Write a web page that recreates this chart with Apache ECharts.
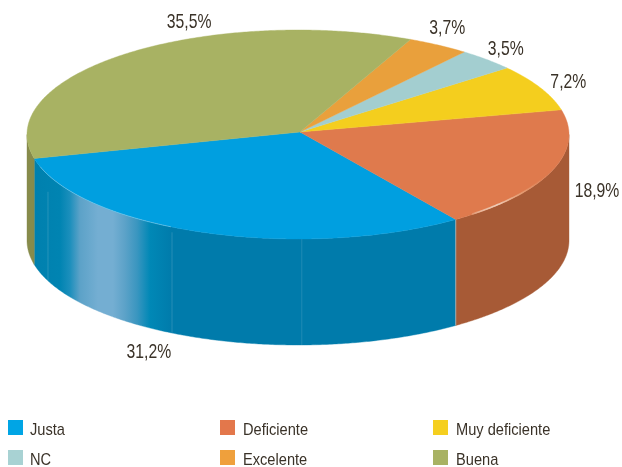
<!DOCTYPE html>
<html>
<head>
<meta charset="utf-8">
<style>html,body{margin:0;padding:0;background:#fff}#c{width:622px;height:467px}</style>
<script src="https://cdn.jsdelivr.net/npm/echarts@6/dist/echarts.min.js"></script>
</head>
<body>
<div id="c"></div>
<script>
// Data, in the clockwise order of the pie starting from the Justa / Deficiente edge
const categories = ['Justa', 'Deficiente', 'Muy deficiente', 'NC', 'Excelente', 'Buena'];
const shares = [31.2, 18.9, 7.2, 3.5, 3.7, 35.5];
const labels = ['31,2%', '18,9%', '7,2%', '3,5%', '3,7%', '35,5%'];

const topColors = ['#009FE0', '#DF7A4D', '#F4CE1E', '#A3CED0', '#E9A03C', '#A8B263'];
const legendColors = ['#00A5E5', '#E3774B', '#F5CF1F', '#A8D2D3', '#EFA03C', '#A8B263'];
const wallColors = ['#007BAB', '#A75A36', '#B89A16', '#7A9C9D', '#B07A2C', '#878B4B'];

// Drawing geometry
const CX = 298, CY = 134.5, RX = 271, RY = 104.5, DEPTH = 106, START_DEG = 54.4;
const FONT = '"Liberation Sans", sans-serif';
const INK = '#3A3228';
const total = shares.reduce((a, b) => a + b, 0);
const labelOffset = [[-54, 120], [45, 20], [28, -6], [19, -10], [9, -17], [63, -32]];
const legendColumns = [[8, 30], [220, 243], [433, 456]];
const legendRows = [420, 450];

function rim(deg, drop) {
  const r = deg * Math.PI / 180;
  return [CX + RX * Math.cos(r), CY + RY * Math.sin(r) + (drop || 0)];
}
function arc(a, b, drop) {
  const pts = [], n = Math.max(2, Math.ceil(Math.abs(b - a) * 2));
  for (let i = 0; i <= n; i++) pts.push(rim(a + (b - a) * i / n, drop));
  return pts;
}
function xGrad(stops) {
  return new echarts.graphic.LinearGradient(27, 0, 569, 0,
    stops.map(s => ({ offset: (s[0] - 27) / 542, color: s[1] })), true);
}
const justaWall = [[33, '#0080AE'], [60, '#0084B2'], [70, '#1C8FBC'], [80, '#5CA2C8'], [98, '#74AED2'],
  [113, '#74AED2'], [125, '#5CA2C8'], [137, '#3A96C0'], [150, '#0088B6'], [172, '#007BAB'], [569, '#007BAB']];
const seams = [[157.3, 0.16, 0.15], [117.7, 0.05, 0.15], [89.2, 0, 0.12]];

function sliceRender(idx) {
  return function (params, api) {
    const v = api.value(0);
    const before = shares.slice(0, idx).reduce((a, b) => a + b, 0);
    const justaSpan = shares[0] / total * 360;
    const a0 = idx === 0 ? START_DEG + justaSpan : START_DEG - (before - shares[0]) / total * 360;
    const a1 = a0 - v / total * 360;
    const lo = Math.min(a0, a1), hi = Math.max(a0, a1);
    const children = [];

    // visible (front) wall: projected angle in 0..180
    const wLo = Math.max(lo, 0), wHi = Math.min(hi, 180);
    const wLo2 = Math.max(lo + 360, 0), wHi2 = Math.min(hi + 360, 180);
    const ranges = [];
    if (wHi > wLo) ranges.push([wLo, wHi]);
    if (wHi2 > wLo2) ranges.push([wLo2, wHi2]);
    ranges.forEach(r => {
      const pts = arc(r[0], r[1], 0).concat(arc(r[1], r[0], DEPTH));
      const fill = idx === 0 ? xGrad(justaWall) : wallColors[idx];
      children.push({ type: 'polygon', z2: 1, shape: { points: pts },
        style: { fill: fill, stroke: fill, lineWidth: 0.4 } });
    });

    // top face
    const facePts = [[CX + 2, CY - 2.5]].concat(arc(lo, hi, 0));
    children.push({ type: 'polygon', z2: 3, shape: { points: facePts },
      style: { fill: topColors[idx], stroke: topColors[idx], lineWidth: 0.4 } });

    if (idx === 0) {
      seams.forEach(s => {
        const t = rim(s[0], DEPTH * s[1]), b = rim(s[0], DEPTH);
        children.push({ type: 'line', z2: 2, shape: { x1: t[0], y1: t[1], x2: b[0], y2: b[1] },
          style: { stroke: 'rgba(255,255,255,' + s[2] + ')', lineWidth: 1 } });
      });
      const e0 = rim(START_DEG, 0), e1 = rim(START_DEG, DEPTH);
      children.push({ type: 'line', z2: 2, shape: { x1: e0[0], y1: e0[1], x2: e1[0], y2: e1[1] },
        style: { stroke: 'rgba(170,215,235,0.6)', lineWidth: 1 } });
      children.push({ type: 'polyline', z2: 4, shape: { points: arc(162, 118, 0) },
        style: { fill: null, lineWidth: 0.8, stroke: 'rgba(190,225,240,0.5)' } });
    }
    if (idx === 1) {
      children.push({ type: 'polyline', z2: 4, shape: { points: arc(50, 24, -0.5) },
        style: { fill: null, lineWidth: 1.6, stroke: xGrad([[465, 'rgba(232,190,160,0)'], [480, 'rgba(235,195,170,0.8)'],
          [497, 'rgba(238,205,185,1)'], [520, 'rgba(232,170,130,0.7)'], [545, 'rgba(232,170,130,0)']]) } });
    }

    // value label
    const mid = (a0 + a1) / 2, p = rim(mid, 0), off = labelOffset[idx];
    children.push({ type: 'text', z2: 5, x: p[0] + off[0], y: p[1] + off[1], scaleX: 0.75,
      style: { text: labels[idx], fill: INK, font: '21px ' + FONT, align: 'center', verticalAlign: 'middle' } });

    return { type: 'group', children: children };
  };
}

const series = categories.map((name, i) => ({
  type: 'custom',
  name: name,
  coordinateSystem: 'none',
  data: [[shares[i]]],
  itemStyle: { color: legendColors[i] },
  animation: false,
  silent: true,
  renderItem: sliceRender(i)
}));

// Legend: grid of three columns and two rows, text condensed like the original
const legendGraphics = [];
categories.forEach((name, i) => {
  const col = legendColumns[i % 3], rowY = legendRows[Math.floor(i / 3)];
  legendGraphics.push({ type: 'rect', x: col[0], y: rowY, shape: { x: 0, y: 0, width: 15, height: 15 },
    style: { fill: legendColors[i] }, silent: true });
  legendGraphics.push({ type: 'text', x: col[1], y: rowY + 10, scaleX: 0.86, silent: true,
    style: { text: name, fill: INK, font: '17px ' + FONT, textAlign: 'left', textVerticalAlign: 'middle' } });
});

const option = {
  backgroundColor: '#fff',
  animation: false,
  tooltip: { show: false },
  graphic: { elements: legendGraphics },
  series: series
};
const chart = echarts.init(document.getElementById('c'), null, { renderer: 'canvas', width: 622, height: 467 });
chart.setOption(option);
</script>
</body>
</html>
